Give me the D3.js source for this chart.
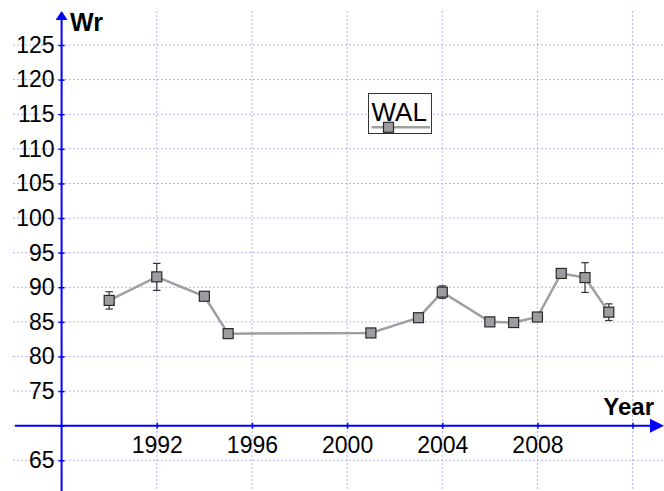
<!DOCTYPE html>
<html>
<head>
<meta charset="utf-8">
<script src="https://cdn.jsdelivr.net/npm/d3@7"></script>
<style>
  html, body { margin: 0; padding: 0; background: #fff; }
  svg { display: block; font-family: "Liberation Sans", Arial, sans-serif; }
</style>
</head>
<body>
<div id="chart"></div>
<script>
// Data
const years = [1990, 1992, 1994, 1995, 2001, 2003, 2004, 2006, 2007, 2008, 2009, 2010, 2011];
const wrValues = [88.1, 91.5, 88.7, 83.3, 83.4, 85.6, 89.3, 85.0, 84.9, 85.7, 92.0, 91.4, 86.4];
const wrErrors = [1.25, 1.95, 0, 0, 0, 0, 0.9, 0, 0, 0, 0, 2.15, 1.2];
const xTicks = [1992, 1996, 2000, 2004, 2008, 2012];
const xTickLabels = ["1992", "1996", "2000", "2004", "2008", ""];
const yTicks = [65, 70, 75, 80, 85, 90, 95, 100, 105, 110, 115, 120, 125];
const yTickLabels = ["65", "", "75", "80", "85", "90", "95", "100", "105", "110", "115", "120", "125"];
const seriesName = "WAL";

const W = 664, H = 491;
const axisColor = "#0000ff";
const gridColor = "#b4b4f6";

const svg = d3.select("#chart").append("svg")
    .attr("width", W)
    .attr("height", H);

// Scales
const x = d3.scaleLinear().domain([1988, 2012]).range([61.6, 632.6]);
const y = d3.scaleLinear().domain([65, 125]).range([460.3, 45]);

const x0 = x(1988), y0 = y(70);

// Grid
svg.append("g").selectAll("line")
    .data(yTicks)
    .enter().append("line")
    .attr("x1", 13).attr("x2", W)
    .attr("y1", d => y(d)).attr("y2", d => y(d))
    .attr("stroke", gridColor)
    .attr("stroke-dasharray", "2,2");

svg.append("g").selectAll("line")
    .data(xTicks)
    .enter().append("line")
    .attr("x1", d => x(d)).attr("x2", d => x(d))
    .attr("y1", 11).attr("y2", H)
    .attr("stroke", gridColor)
    .attr("stroke-dasharray", "2,2");

// Axes
const yAxis = svg.append("g")
    .attr("transform", `translate(${x0},0)`)
    .call(d3.axisLeft(y).tickValues(yTicks).tickSizeInner(3).tickSizeOuter(0).tickPadding(4)
        .tickFormat((d, i) => yTickLabels[i]));

const xAxis = svg.append("g")
    .attr("transform", `translate(0,${y0})`)
    .call(d3.axisBottom(x).tickValues(xTicks).tickSizeInner(3).tickSizeOuter(0).tickPadding(8)
        .tickFormat((d, i) => xTickLabels[i]));

[yAxis, xAxis].forEach(g => {
    g.select(".domain").remove();
    g.selectAll(".tick line").attr("stroke", axisColor).attr("stroke-width", 1.5);
    g.selectAll(".tick text")
        .attr("fill", "#000")
        .style("font-size", "23px")
        .style("font-family", "'Liberation Sans', Arial, sans-serif");
});
yAxis.selectAll(".tick line").attr("x1", 3);
xAxis.selectAll(".tick line").attr("y1", -3);

// Axis lines with arrows
svg.append("line")
    .attr("x1", x0).attr("x2", x0)
    .attr("y1", 18).attr("y2", H)
    .attr("stroke", axisColor).attr("stroke-width", 2);
svg.append("path")
    .attr("d", `M${x0},11L${x0 - 6},20L${x0 + 6},20Z`)
    .attr("fill", axisColor);

svg.append("line")
    .attr("x1", 15).attr("x2", 652)
    .attr("y1", y0).attr("y2", y0)
    .attr("stroke", axisColor).attr("stroke-width", 2);
svg.append("path")
    .attr("d", `M664,${y0}L650,${y0 - 7}L650,${y0 + 7}Z`)
    .attr("fill", axisColor);

// Axis titles
svg.append("text")
    .attr("x", 70).attr("y", 31)
    .style("font-size", "25px").style("font-weight", "bold")
    .text("Wr");

svg.append("text")
    .attr("x", 654).attr("y", 415)
    .attr("text-anchor", "end")
    .style("font-size", "24px").style("font-weight", "bold")
    .text("Year");

// Series
const data = years.map((yr, i) => ({ year: yr, value: wrValues[i], err: wrErrors[i] }));

svg.append("path")
    .datum(data)
    .attr("fill", "none")
    .attr("stroke", "#a0a0a0")
    .attr("stroke-width", 2.5)
    .attr("d", d3.line().x(d => x(d.year)).y(d => y(d.value)));

// Error bars
const eb = svg.append("g").selectAll("g")
    .data(data.filter(d => d.err > 0))
    .enter().append("g")
    .attr("stroke", "#333")
    .attr("stroke-width", 1.2);
eb.append("line")
    .attr("x1", d => x(d.year)).attr("x2", d => x(d.year))
    .attr("y1", d => y(d.value + d.err)).attr("y2", d => y(d.value - d.err));
eb.append("line")
    .attr("x1", d => x(d.year) - 3.7).attr("x2", d => x(d.year) + 3.7)
    .attr("y1", d => y(d.value + d.err)).attr("y2", d => y(d.value + d.err));
eb.append("line")
    .attr("x1", d => x(d.year) - 3.7).attr("x2", d => x(d.year) + 3.7)
    .attr("y1", d => y(d.value - d.err)).attr("y2", d => y(d.value - d.err));

// Markers
svg.append("g").selectAll("rect")
    .data(data)
    .enter().append("rect")
    .attr("x", d => x(d.year) - 5)
    .attr("y", d => y(d.value) - 5)
    .attr("width", 10).attr("height", 10)
    .attr("fill", "#9d9da1")
    .attr("stroke", "#2a2a2a")
    .attr("stroke-width", 1.2);

// Legend
const legend = svg.append("g");
legend.append("rect")
    .attr("x", 368.5).attr("y", 93.5)
    .attr("width", 63).attr("height", 40)
    .attr("fill", "#fff")
    .attr("stroke", "#333").attr("stroke-width", 1);
legend.append("text")
    .attr("x", 371.5).attr("y", 120.5)
    .style("font-size", "26px")
    .text(seriesName);
legend.append("line")
    .attr("x1", 371.5).attr("x2", 430)
    .attr("y1", 127.3).attr("y2", 127.3)
    .attr("stroke", "#a0a0a0").attr("stroke-width", 2.5);
legend.append("rect")
    .attr("x", 383.5).attr("y", 122.3)
    .attr("width", 10).attr("height", 10)
    .attr("fill", "#9d9da1")
    .attr("stroke", "#2a2a2a").attr("stroke-width", 1.2);
</script>
</body>
</html>
